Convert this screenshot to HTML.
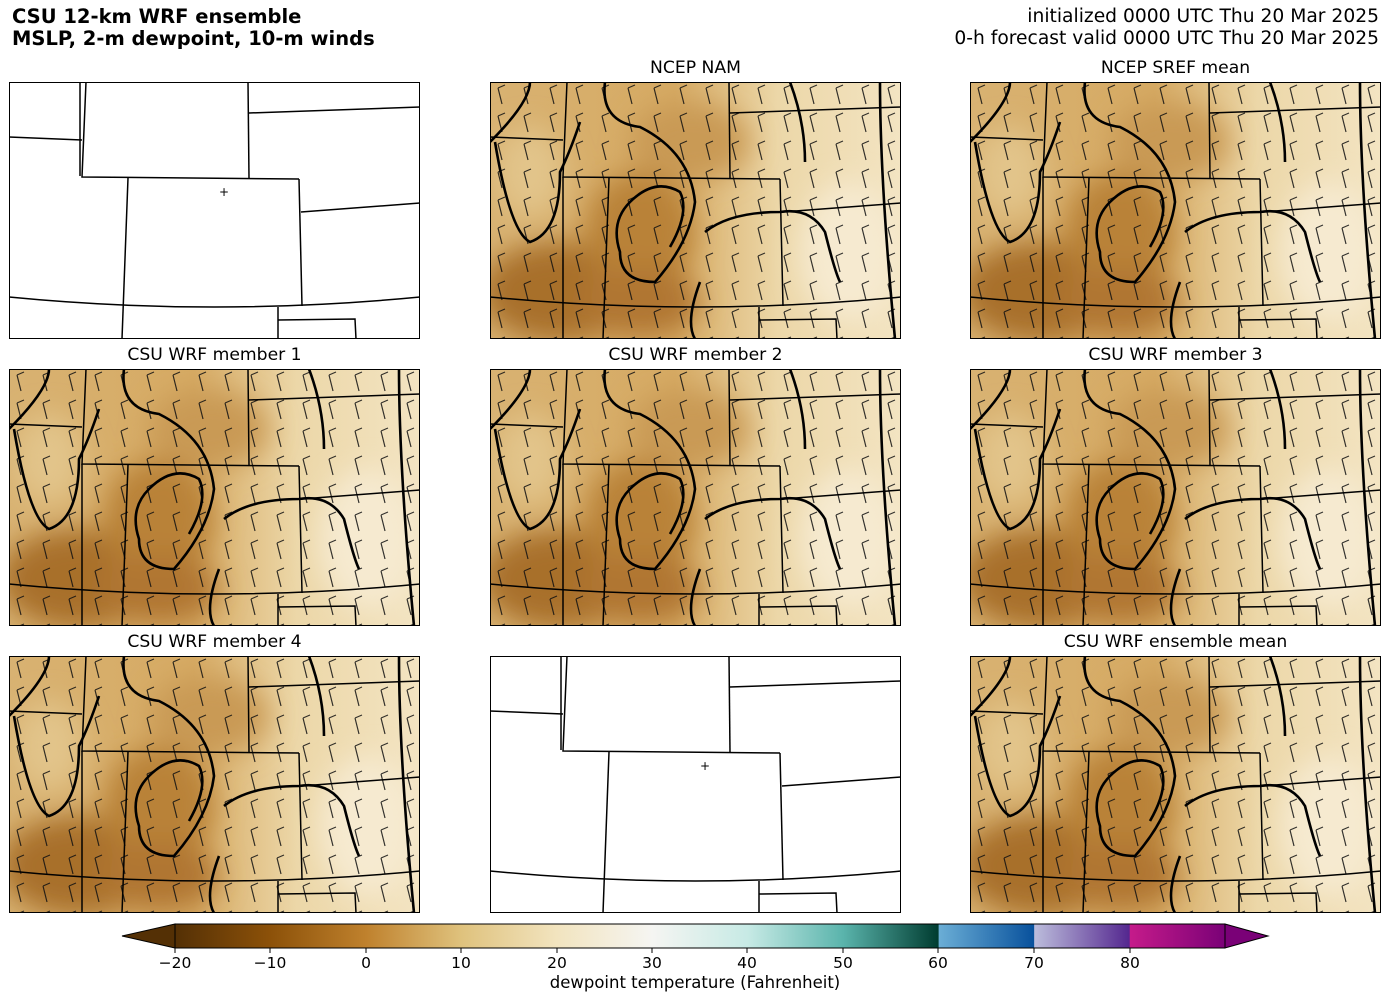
<!DOCTYPE html>
<html><head><meta charset="utf-8"><style>
body{margin:0;width:1391px;height:1001px;background:#fff;position:relative;overflow:hidden;font-family:"DejaVu Sans","Liberation Sans",sans-serif;}
.t{position:absolute;font-size:16px;color:#000;white-space:nowrap}
.p{position:absolute;width:411px;height:257px;}
.ttl{position:absolute;font-size:17.2px;width:411px;text-align:center}
</style></head><body>
<div class="t" style="left:12px;top:6px;font-weight:bold;font-size:19.5px;line-height:22px">CSU 12-km WRF ensemble<br>MSLP, 2-m dewpoint, 10-m winds</div>
<div class="t" style="right:12px;top:6px;font-size:18.7px;line-height:22px;text-align:right">initialized 0000 UTC Thu 20 Mar 2025<br>0-h forecast valid 0000 UTC Thu 20 Mar 2025</div>

<svg width="0" height="0" style="position:absolute">
<defs>
<linearGradient id="bg" x1="0" y1="0" x2="1" y2="0">
<stop offset="0" stop-color="#d8b272"/><stop offset="0.45" stop-color="#d6aa63"/><stop offset="0.7" stop-color="#ecd7a8"/><stop offset="1" stop-color="#f3e4c2"/></linearGradient>
<filter id="bl" x="-50%" y="-50%" width="200%" height="200%"><feGaussianBlur stdDeviation="14"/></filter>
<pattern id="barb" width="26" height="28" patternUnits="userSpaceOnUse">
<path d="M8,6 L12,22 M8,6 L15,3" stroke="#111" stroke-width="1.2" fill="none"/></pattern>
<g id="borders" stroke="#000" stroke-width="1.5" fill="none">
<path d="M0,55 L73,58"/><path d="M77,0 L73,95 L290,97"/><path d="M239,0 L240,96"/>
<path d="M119,96 L113,257"/><path d="M290,97 L293,224"/><path d="M240,31 L411,25"/><path d="M292,130 L411,121"/>
<path d="M0,215 Q205,235 411,215"/><path d="M269,225 L269,257"/><path d="M269,238 L346,237 L347,257"/>
</g>
<g id="filled">
<rect width="411" height="257" fill="url(#bg)"/>
<g filter="url(#bl)">
<ellipse cx="70" cy="210" rx="80" ry="50" fill="#a8702c"/>
<ellipse cx="150" cy="150" rx="55" ry="60" fill="#b98238"/>
<ellipse cx="200" cy="60" rx="60" ry="40" fill="#c99a55"/>
<ellipse cx="40" cy="90" rx="35" ry="45" fill="#e2c48a"/>
<ellipse cx="150" cy="220" rx="60" ry="35" fill="#b07630"/>
<ellipse cx="360" cy="170" rx="50" ry="70" fill="#f6ead0"/>
</g>
<rect width="411" height="257" fill="url(#barb)" opacity="0.85"/>
<use href="#borders"/>
<path d="M73,95 L73,257" stroke="#000" stroke-width="1.5"/>
<g stroke="#000" stroke-width="2.6" fill="none">
<path d="M0,60 Q40,20 40,0"/>
<path d="M5,60 Q20,150 40,160 Q70,150 70,90 Q80,70 90,40"/>
<path d="M115,0 Q110,40 150,45 Q200,70 205,120 Q200,160 165,200 Q130,200 130,170 Q120,140 140,120 Q165,95 190,110 Q200,130 180,165"/>
<path d="M215,150 Q240,130 290,130 Q320,125 335,150 Q345,190 350,200"/>
<path d="M300,0 Q315,40 315,80"/><path d="M390,0 Q390,100 405,257"/>
<path d="M210,200 Q195,240 205,257"/>
</g>
</g>
</defs></svg>

<svg class="p" style="left:9px;top:82px" viewBox="0 0 411 257"><rect x="0.5" y="0.5" width="410" height="256" fill="#fff" stroke="#000"/><use href="#borders"/><path d="M71,0 L71,94" stroke="#000" stroke-width="1.5"/><text x="215" y="114" font-size="12" text-anchor="middle">+</text></svg>
<svg class="p" style="left:490px;top:656px" viewBox="0 0 411 257"><rect x="0.5" y="0.5" width="410" height="256" fill="#fff" stroke="#000"/><use href="#borders"/><path d="M71,0 L71,94" stroke="#000" stroke-width="1.5"/><text x="215" y="114" font-size="12" text-anchor="middle">+</text></svg>

<div class="ttl" style="left:490px;top:58px">NCEP NAM</div>
<svg class="p" style="left:490px;top:82px" viewBox="0 0 411 257"><use href="#filled"/><rect x="0.5" y="0.5" width="410" height="256" fill="none" stroke="#000"/></svg>
<div class="ttl" style="left:970px;top:58px">NCEP SREF mean</div>
<svg class="p" style="left:970px;top:82px" viewBox="0 0 411 257"><use href="#filled"/><rect x="0.5" y="0.5" width="410" height="256" fill="none" stroke="#000"/></svg>
<div class="ttl" style="left:9px;top:345px">CSU WRF member 1</div>
<svg class="p" style="left:9px;top:369px" viewBox="0 0 411 257"><use href="#filled"/><rect x="0.5" y="0.5" width="410" height="256" fill="none" stroke="#000"/></svg>
<div class="ttl" style="left:490px;top:345px">CSU WRF member 2</div>
<svg class="p" style="left:490px;top:369px" viewBox="0 0 411 257"><use href="#filled"/><rect x="0.5" y="0.5" width="410" height="256" fill="none" stroke="#000"/></svg>
<div class="ttl" style="left:970px;top:345px">CSU WRF member 3</div>
<svg class="p" style="left:970px;top:369px" viewBox="0 0 411 257"><use href="#filled"/><rect x="0.5" y="0.5" width="410" height="256" fill="none" stroke="#000"/></svg>
<div class="ttl" style="left:9px;top:632px">CSU WRF member 4</div>
<svg class="p" style="left:9px;top:656px" viewBox="0 0 411 257"><use href="#filled"/><rect x="0.5" y="0.5" width="410" height="256" fill="none" stroke="#000"/></svg>
<div class="ttl" style="left:970px;top:632px">CSU WRF ensemble mean</div>
<svg class="p" style="left:970px;top:656px" viewBox="0 0 411 257"><use href="#filled"/><rect x="0.5" y="0.5" width="410" height="256" fill="none" stroke="#000"/></svg>

<svg style="position:absolute;left:0;top:920px" width="1391" height="81">
<defs><linearGradient id="cb" x1="175" y1="0" x2="1225" y2="0" gradientUnits="userSpaceOnUse">
<stop offset="0" stop-color="#543005"/><stop offset="0.0909" stop-color="#8c5109"/><stop offset="0.1818" stop-color="#bf812d"/><stop offset="0.2727" stop-color="#dfc27d"/><stop offset="0.3636" stop-color="#f2e4bf"/><stop offset="0.4545" stop-color="#f5f5f2"/><stop offset="0.5454" stop-color="#c7eae5"/><stop offset="0.6363" stop-color="#5ab4ac"/><stop offset="0.727" stop-color="#003c30"/>
<stop offset="0.7275" stop-color="#6baed6"/><stop offset="0.818" stop-color="#08519c"/><stop offset="0.8185" stop-color="#bcbddc"/><stop offset="0.909" stop-color="#54278f"/><stop offset="0.9095" stop-color="#c51b8a"/><stop offset="1" stop-color="#7a0177"/></linearGradient></defs>
<polygon points="175,4 122,16 175,28" fill="#543005" stroke="#000"/>
<polygon points="1225,4 1268,16 1225,28" fill="#7a0177" stroke="#000"/>
<rect x="175" y="4" width="1050" height="24" fill="url(#cb)" stroke="#000"/>
<g stroke="#000"><path d="M175,28v5M270,28v5M366,28v5M461,28v5M557,28v5M652,28v5M747,28v5M843,28v5M938,28v5M1034,28v5M1130,28v5"/></g>
<g font-size="15.5" text-anchor="middle" font-family="DejaVu Sans,sans-serif">
<text x="175" y="48">−20</text><text x="270" y="48">−10</text><text x="366" y="48">0</text><text x="461" y="48">10</text><text x="557" y="48">20</text><text x="652" y="48">30</text><text x="747" y="48">40</text><text x="843" y="48">50</text><text x="938" y="48">60</text><text x="1034" y="48">70</text><text x="1130" y="48">80</text>
<text x="695" y="68" font-size="16.5">dewpoint temperature (Fahrenheit)</text></g>
</svg>
</body></html>
